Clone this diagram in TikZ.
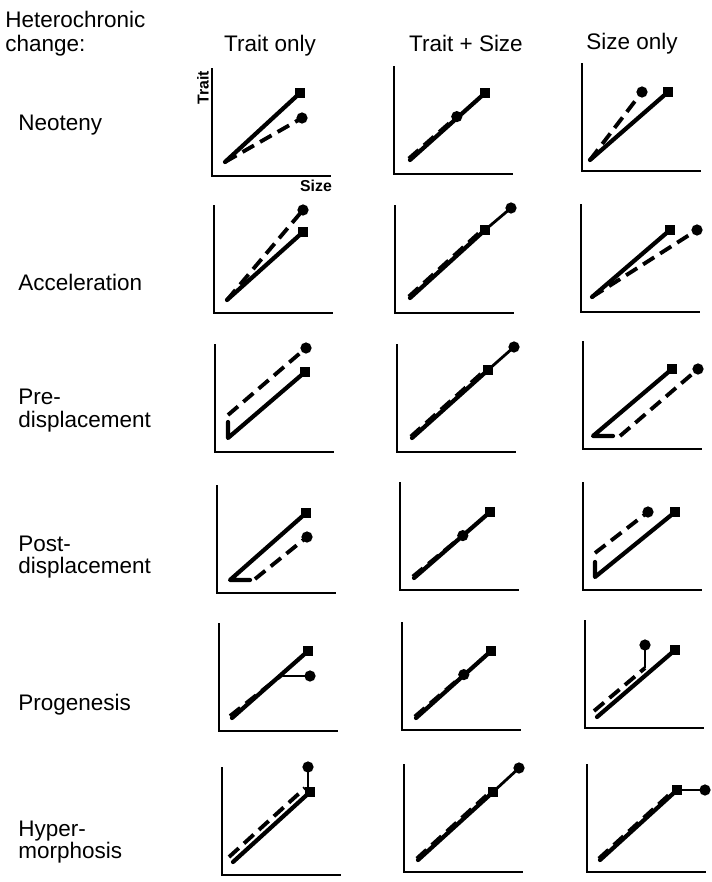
\documentclass[tikz,border=0pt]{standalone}
\usepackage{fontspec}
\setmainfont{Liberation Sans}
\usetikzlibrary{positioning}

\tikzset{
  axes/.style={line width=1.5pt, line cap=rect},
  anc/.style={line width=2.4pt, line cap=round, line join=round},
  desc/.style={line width=2.2pt, dash pattern=on 7.5pt off 4pt},
  ext/.style={line width=1.6pt},
  sq/.style={fill, minimum size=5.6pt, inner sep=0pt},
  dot/.style={circle, fill, minimum size=6.4pt, inner sep=0pt},
  hdr/.style={font=\fontsize{12.8}{14}\selectfont, anchor=base, inner sep=0pt},
  lbl/.style={font=\fontsize{12.8}{14}\selectfont, anchor=base west, inner sep=0pt},
  axlbl/.style={font=\bfseries\fontsize{9}{10}\selectfont, inner sep=0pt}
}

\begin{document}
\begin{tikzpicture}[x=0.02cm, y=-0.02cm]
  \useasboundingbox (0,0) rectangle (712,882);

  %% Column headings
  \node[lbl] (hetero) at (5,28) {Heterochronic};
  \node[lbl] (change) at (5,52) {change:};
  \node[hdr] (traitonly) at (270,52) {Trait only};
  \node[hdr] (traitsize) at (466,52) {Trait + Size};
  \node[hdr] (sizeonly)  at (632,50) {Size only};

  %% Row labels
  \node[lbl] (neoteny) at (18,131) {Neoteny};
  \node[lbl] (accel)   at (18,290) {Acceleration};
  \node[lbl] (pre)     at (18,404) {Pre-};
  \node[lbl] (predisp) at (18,427) {displacement};
  \node[lbl] (post)    at (18,551) {Post-};
  \node[lbl] (postdisp) at (18,573) {displacement};
  \node[lbl] (progen)  at (18,710) {Progenesis};
  \node[lbl] (hyper)   at (18,836) {Hyper-};
  \node[lbl] (morph)   at (18,858) {morphosis};

  %% Axes of all panels
  \foreach \cx/\cy in {212/176, 394/174, 582/171,
                       214/313, 395/313, 581/312,
                       215/452, 397/452, 583/449,
                       217/593, 400/590, 583/590,
                       219/731, 402/730, 585/728,
                       222/875, 404/872, 587/872}
    \draw[axes] (\cx,\cy-107) -- (\cx,\cy) -- (\cx+118,\cy);

  \node[axlbl, rotate=90] (traitax) at (203,88) {Trait};
  \node[axlbl] (sizeax) at (316,186) {Size};

  %% Neoteny
  \draw[desc] (225,162) -- (302,118) node[dot] {};
  \draw[anc] (225,162) -- (300,93) node[sq] {};
  \draw[anc] (410,160) -- (485,93) node[sq] {};
  \draw[desc, shift={(-1.2,-1.4)}] (410,160) -- (458,118) node[dot] {};
  \draw[desc] (590,160) -- (642,92) node[dot] {};
  \draw[anc] (590,160) -- (668,92) node[sq] {};

  %% Acceleration
  \draw[desc] (227,300) -- (303,210) node[dot] {};
  \draw[anc] (227,300) -- (303,232) node[sq] {};
  \draw[anc] (410,298) -- (485,230) node[sq] {};
  \draw[desc, shift={(-1.2,-1.4)}] (410,298) -- (485,230);
  \draw[ext] (485,230) -- (511,208) node[dot] {};
  \draw[desc] (592,297) -- (697,230) node[dot] {};
  \draw[anc] (592,297) -- (670,230) node[sq] {};

  %% Pre-displacement
  \draw[desc] (228,415) -- (306,348) node[dot] {};
  \draw[anc] (228,422) -- (228,438) -- (305,372) node[sq] {};
  \draw[anc] (412,438) -- (488,370) node[sq] {};
  \draw[desc, shift={(-1.2,-1.4)}] (412,438) -- (488,370);
  \draw[ext] (488,370) -- (514,347) node[dot] {};
  \draw[desc] (620,436) -- (698,369) node[dot] {};
  \draw[anc] (613,436) -- (593,436) -- (672,369) node[sq] {};

  %% Post-displacement
  \draw[desc] (255,579) -- (307,537) node[dot] {};
  \draw[anc] (250,580) -- (230,580) -- (306,513) node[sq] {};
  \draw[anc] (414,578) -- (490,512) node[sq] {};
  \draw[desc, shift={(-1.2,-1.4)}] (414,578) -- (464,537) node[dot] {};
  \draw[desc] (595,553) -- (648,512) node[dot] {};
  \draw[anc] (595,562) -- (595,577) -- (675,512) node[sq] {};

  %% Progenesis
  \draw[anc] (232,718) -- (308,651) node[sq] {};
  \draw[desc, shift={(-2,-2)}] (232,718) -- (285,676);
  \draw[ext] (283,676) -- (310,676) node[dot] {};
  \draw[anc] (416,718) -- (491,651) node[sq] {};
  \draw[desc, shift={(-1.2,-1.4)}] (416,718) -- (465,676) node[dot] {};
  \draw[anc] (597,717) -- (675,650) node[sq] {};
  \draw[desc] (594,711) -- (645,668);
  \draw[ext] (645,668) -- (645,645) node[dot] {};

  %% Hypermorphosis
  \draw[anc] (233,862) -- (310,792) node[sq] {};
  \draw[desc] (229,857) -- (305,788);
  \draw[ext] (308,788) -- (308,767) node[dot] {};
  \draw[anc] (418,860) -- (493,792) node[sq] {};
  \draw[desc, shift={(-1.2,-1.4)}] (418,860) -- (493,792);
  \draw[ext] (493,792) -- (519,768) node[dot] {};
  \draw[anc] (600,860) -- (677,790) node[sq] {};
  \draw[desc, shift={(-1.2,-1.4)}] (600,860) -- (677,790);
  \draw[ext] (677,790) -- (705,790) node[dot] {};
\end{tikzpicture}
\end{document}
